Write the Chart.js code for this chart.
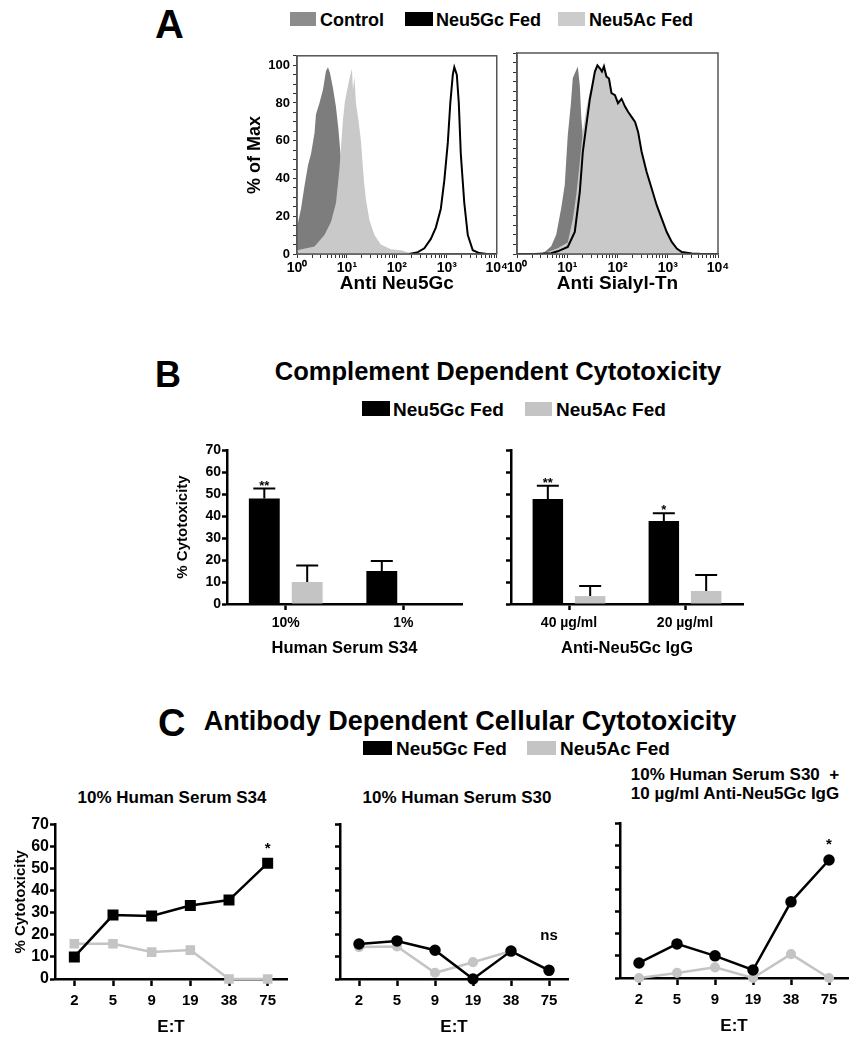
<!DOCTYPE html>
<html>
<head>
<meta charset="utf-8">
<script src="https://cdn.jsdelivr.net/npm/chart.js@4.4.0/dist/chart.umd.min.js"></script>
<style>
  body { margin: 0; background: #fff; width: 862px; height: 1050px; position: relative; overflow: hidden;
         font-family: "Liberation Sans", Arial, sans-serif; font-weight: bold; color: #000; }
  canvas { position: absolute; }
  .t { position: absolute; white-space: nowrap; line-height: 1; }
  .c { transform: translateX(-50%); }
  .sw { position: absolute; }
</style>
</head>
<body>

<!-- panel letters, titles, legends -->
<div class="t" style="left:155px;top:4px;font-size:40px">A</div>
<div class="sw" style="left:290px;top:12px;width:26px;height:14px;background:#8c8c8c"></div>
<div class="t" style="left:320px;top:11px;font-size:18px">Control</div>
<div class="sw" style="left:405px;top:12px;width:28px;height:14px;background:#000"></div>
<div class="t" style="left:436px;top:11px;font-size:18px">Neu5Gc Fed</div>
<div class="sw" style="left:558px;top:12px;width:27px;height:14px;background:#cccccc"></div>
<div class="t" style="left:589px;top:11px;font-size:18px">Neu5Ac Fed</div>

<div class="t" style="left:155px;top:357px;font-size:36px">B</div>
<div class="t c" style="left:498px;top:359px;font-size:25.5px">Complement Dependent Cytotoxicity</div>
<div class="sw" style="left:362px;top:401px;width:28px;height:15px;background:#000"></div>
<div class="t" style="left:393px;top:400px;font-size:19px">Neu5Gc Fed</div>
<div class="sw" style="left:525px;top:402px;width:27px;height:14px;background:#c4c4c4"></div>
<div class="t" style="left:556px;top:400px;font-size:19px">Neu5Ac Fed</div>

<div class="t" style="left:158px;top:704px;font-size:38px">C</div>
<div class="t c" style="left:470px;top:708px;font-size:27px">Antibody Dependent Cellular Cytotoxicity</div>
<div class="sw" style="left:363px;top:741px;width:29px;height:14px;background:#000"></div>
<div class="t" style="left:396px;top:739px;font-size:19px">Neu5Gc Fed</div>
<div class="sw" style="left:527px;top:741px;width:29px;height:14px;background:#c4c4c4"></div>
<div class="t" style="left:560px;top:739px;font-size:19px">Neu5Ac Fed</div>

<div class="t c" style="left:172px;top:789px;font-size:17px">10% Human Serum S34</div>
<div class="t c" style="left:457px;top:789px;font-size:17px">10% Human Serum S30</div>
<div class="t c" style="left:735px;top:766px;font-size:17px">10% Human Serum S30&nbsp;&nbsp;+</div>
<div class="t c" style="left:735px;top:785px;font-size:17px">10 µg/ml Anti-Neu5Gc IgG</div>

<canvas id="a1" width="270" height="254" style="left:240px;top:45px"></canvas>
<canvas id="a2" width="232" height="254" style="left:500px;top:45px"></canvas>
<canvas id="b1" width="300" height="222" style="left:170px;top:440px"></canvas>
<canvas id="b2" width="260" height="222" style="left:491px;top:440px"></canvas>
<canvas id="c1" width="289" height="228" style="left:8px;top:814px"></canvas>
<canvas id="c2" width="258" height="228" style="left:320px;top:814px"></canvas>
<canvas id="c3" width="258" height="228" style="left:600px;top:813px"></canvas>

<script>
// ============================================================
// Data
// ============================================================

// A — histograms, x = log10 fluorescence, y = % of max
const decadeLabels = ['10⁰', '10¹', '10²', '10³', '10⁴'];

const a1CtrlX = [0, 0.08, 0.15, 0.22, 0.28, 0.35, 0.38, 0.45, 0.52, 0.58, 0.62, 0.66, 0.72, 0.78, 0.83, 0.88, 0.95, 1.0, 1.1, 1.2, 1.35, 1.5];
const a1CtrlY = [14, 24, 36, 47, 53, 64, 74, 80, 87, 97, 99, 96, 88, 78, 66, 50, 35, 22, 10, 4, 1, 0];
const a1AcX = [0, 0.35, 0.55, 0.68, 0.78, 0.85, 0.92, 0.96, 1.02, 1.06, 1.10, 1.12, 1.15, 1.18, 1.23, 1.28, 1.34, 1.38, 1.45, 1.55, 1.68, 1.88, 2.08, 2.28, 2.42];
const a1AcY = [2, 4, 10, 17, 27, 45, 71, 81, 89, 94, 98, 87, 94, 80, 71, 60, 39, 29, 18, 10, 5, 2.5, 2, 0.5, 0];
const a1GcX = [2.25, 2.42, 2.55, 2.68, 2.78, 2.88, 2.95, 3.02, 3.07, 3.12, 3.15, 3.2, 3.24, 3.28, 3.35, 3.42, 3.52, 3.65, 3.8, 4.0];
const a1GcY = [0, 1, 3, 8, 14, 24, 39, 59, 80, 95, 99, 95, 80, 53, 27, 10, 2, 0.5, 0, 0];

const a2CtrlX = [0.45, 0.55, 0.68, 0.78, 0.88, 0.95, 1.01, 1.07, 1.11, 1.16, 1.21, 1.25, 1.28, 1.35, 1.45, 1.6, 1.8, 2.0];
const a2CtrlY = [0, 1, 4, 10, 24, 36, 62, 78, 92, 95, 98, 88, 71, 50, 30, 12, 3, 0];
const a2AcX = [0.5, 0.61, 0.81, 1.01, 1.11, 1.18, 1.25, 1.31, 1.38, 1.45, 1.49, 1.53, 1.58, 1.65, 1.69, 1.73, 1.78, 1.85, 1.89, 1.95, 2.0, 2.05, 2.11, 2.18, 2.25, 2.31, 2.38, 2.45, 2.55, 2.65, 2.75, 2.85, 2.95, 3.05, 3.15, 3.25, 3.41];
const a2AcY = [0, 1, 3, 6, 18, 31, 48, 64, 76, 85, 88, 94, 98, 97, 95, 98, 93, 91, 84, 83, 81, 80, 78, 76, 72, 71, 66, 57, 45, 36, 27, 20, 13, 7, 3, 1, 0];
const a2GcX = [0, 0.35, 0.68, 0.81, 1.01, 1.15, 1.25, 1.31, 1.38, 1.45, 1.49, 1.55, 1.6, 1.65, 1.69, 1.73, 1.78, 1.83, 1.88, 1.95, 2.01, 2.08, 2.15, 2.21, 2.28, 2.35, 2.41, 2.48, 2.58, 2.68, 2.78, 2.88, 2.98, 3.08, 3.18, 3.28, 3.48, 3.68, 4.0];
const a2GcY = [0, 0, 0.4, 1.4, 3.7, 11.5, 32.5, 53.4, 67.3, 81, 86.6, 95.3, 98.5, 97, 95.3, 98, 92.7, 91.7, 84, 83, 78.7, 81, 77, 74.3, 71.6, 69, 63.8, 53.4, 42.8, 34.2, 25.5, 18.5, 11.5, 6.3, 2.8, 1, 0.3, 0, 0];

// B — complement dependent cytotoxicity (mean, upper SD)
const b1Labels = ['10%', '1%'];
const b1Gc = [48, 15];
const b1GcErr = [4.5, 4.5];
const b1Ac = [10, 0];
const b1AcErr = [7.5, 0];
const b1Stars = ['**', ''];

const b2Labels = ['40 µg/ml', '20 µg/ml'];
const b2Gc = [47.7, 37.7];
const b2GcErr = [6, 3.5];
const b2Ac = [3.6, 5.9];
const b2AcErr = [4.6, 7.3];
const b2Stars = ['**', '*'];

// C — ADCC vs E:T ratio
const etLabels = ['2', '5', '9', '19', '38', '75'];
const c1Gc = [10, 29, 28.6, 33.3, 35.8, 52.5];
const c1Ac = [16, 16, 12.2, 13.1, 0, 0];
const c1Notes = ['', '', '', '', '', '*'];
const c2Gc = [15.8, 17.2, 13, 0, 12.6, 3.9];
const c2Ac = [14.4, 14.7, 2.8, 7.6, 12.6, 3.9];
const c2Notes = ['', '', '', '', '', 'ns'];
const c3Gc = [6.8, 15.4, 10, 3.6, 34.4, 53.3];
const c3Ac = [0, 2.3, 4.8, 0, 10.8, 0];
const c3Notes = ['', '', '', '', '', '*'];

// ============================================================
// Shared setup
// ============================================================
const FONT = '"Liberation Sans", Arial, sans-serif';
Chart.defaults.font.family = FONT;
Chart.defaults.font.weight = 'bold';
Chart.defaults.color = '#000';

const GREY = '#c4c4c4';
const zip = (xs, ys) => xs.map((x, i) => ({ x, y: ys[i] }));
const fixW = w => s => { s.width = w; };
const fixH = h => s => { s.height = h; };

// box round the histogram plots
const frame = {
  id: 'frame',
  afterDraw(chart) {
    const a = chart.chartArea, ctx = chart.ctx;
    ctx.save();
    ctx.strokeStyle = '#555';
    ctx.lineWidth = 1.5;
    ctx.strokeRect(a.left, a.top, a.right - a.left, a.bottom - a.top);
    ctx.restore();
  }
};

// upper error bars + stars on the bar charts
const errorBars = {
  id: 'errorBars',
  afterDatasetsDraw(chart) {
    const ctx = chart.ctx, y = chart.scales.y;
    chart.data.datasets.forEach((ds, i) => {
      chart.getDatasetMeta(i).data.forEach((bar, j) => {
        const e = ds.errors[j];
        if (!e) return;
        const top = y.getPixelForValue(ds.data[j] + e);
        ctx.save();
        ctx.strokeStyle = '#000';
        ctx.lineWidth = 2;
        ctx.beginPath();
        ctx.moveTo(bar.x, bar.y);
        ctx.lineTo(bar.x, top);
        ctx.moveTo(bar.x - 11, top);
        ctx.lineTo(bar.x + 11, top);
        ctx.stroke();
        const s = ds.stars && ds.stars[j];
        if (s) {
          ctx.fillStyle = '#000';
          ctx.font = 'bold 13px ' + FONT;
          ctx.textAlign = 'center';
          ctx.textBaseline = 'alphabetic';
          ctx.fillText(s, bar.x, top + 1);
        }
        ctx.restore();
      });
    });
  }
};

// significance notes above line points
const notes = {
  id: 'notes',
  afterDatasetsDraw(chart, args, opts) {
    const ctx = chart.ctx;
    chart.data.datasets.forEach((ds, i) => {
      if (!ds.notes) return;
      chart.getDatasetMeta(i).data.forEach((p, j) => {
        const s = ds.notes[j];
        if (!s) return;
        ctx.save();
        ctx.fillStyle = '#000';
        ctx.font = 'bold 15px ' + FONT;
        ctx.textAlign = 'center';
        ctx.textBaseline = 'alphabetic';
        ctx.fillText(s, p.x, p.y - opts.offset);
        ctx.restore();
      });
    });
  }
};

const base = {
  responsive: false,
  animation: false,
  plugins: { legend: { display: false }, tooltip: { enabled: false } }
};

// ============================================================
// A — flow histograms
// ============================================================
function histChart(id, ctrl, ac, gc, opt) {
  new Chart(document.getElementById(id), {
    type: 'line',
    data: {
      datasets: [
        { data: gc, borderColor: '#000', borderWidth: 2, fill: false, pointRadius: 0, order: 1 },
        { data: ac, borderColor: 'rgba(0,0,0,0)', borderWidth: 0, backgroundColor: '#c9c9c9', fill: 'origin', pointRadius: 0, order: 2 },
        { data: ctrl, borderColor: 'rgba(0,0,0,0)', borderWidth: 0, backgroundColor: '#7d7d7d', fill: 'origin', pointRadius: 0, order: 3 }
      ]
    },
    options: {
      ...base,
      layout: { autoPadding: false, padding: { left: 0, top: 8, right: opt.padR, bottom: 0 } },
      scales: {
        x: {
          type: 'linear', min: 0, max: 4,
          afterBuildTicks: s => {
            const t = [];
            for (let n = 0; n < 4; n++) for (let m = 1; m < 10; m++) t.push({ value: n + Math.log10(m) });
            t.push({ value: 4 });
            s.ticks = t;
          },
          afterFit: fixH(45),
          grid: { drawOnChartArea: false, tickLength: 4, color: '#333' },
          border: { color: '#555', width: 1.5 },
          ticks: { autoSkip: false, maxRotation: 0, padding: 2, font: { size: 14, weight: 'bold' },
                   callback: v => Number.isInteger(v) ? decadeLabels[v] : '' },
          title: { display: true, text: opt.xTitle, font: { size: 19, weight: 'bold' }, padding: { top: 0, bottom: 4 } }
        },
        y: {
          min: 0, max: 105,
          afterFit: fixW(opt.yW),
          grid: { drawOnChartArea: false, tickLength: 4, color: '#333' },
          border: { color: '#555', width: 1.5 },
          ticks: { display: opt.yLabels, autoSkip: false, stepSize: 5, padding: 3, font: { size: 13, weight: 'bold' },
                   callback: v => (v % 20 === 0 ? v : '') },
          title: { display: opt.yLabels, text: '% of Max', font: { size: 18, weight: 'bold' }, padding: { top: 4, bottom: 0 } }
        }
      }
    },
    plugins: [frame]
  });
}

histChart('a1', zip(a1CtrlX, a1CtrlY), zip(a1AcX, a1AcY), zip(a1GcX, a1GcY),
  { xTitle: 'Anti Neu5Gc', yLabels: true, yW: 57, padR: 13 });
histChart('a2', zip(a2CtrlX, a2CtrlY), zip(a2AcX, a2AcY), zip(a2GcX, a2GcY),
  { xTitle: 'Anti Sialyl-Tn', yLabels: false, yW: 17, padR: 14 });

// ============================================================
// B — CDC bars
// ============================================================
function cytoY(showLabels, width, tickSize) {
  return {
    min: 0, max: 70,
    afterFit: fixW(width),
    grid: { drawOnChartArea: false, tickLength: 5, tickWidth: 2.5, tickColor: '#000' },
    border: { color: '#000', width: 2.5 },
    ticks: { display: showLabels, autoSkip: false, stepSize: 10, padding: 1, font: { size: tickSize, weight: 'bold' } },
    title: { display: showLabels, text: '% Cytotoxicity', font: { size: 15, weight: 'bold' }, padding: { top: 4, bottom: 0 } }
  };
}

function barChart(id, labels, gc, gcErr, ac, acErr, stars, xTitle, showY, yW) {
  new Chart(document.getElementById(id), {
    type: 'bar',
    data: {
      labels,
      datasets: [
        { data: gc, errors: gcErr, stars, backgroundColor: '#000' },
        { data: ac, errors: acErr, backgroundColor: GREY }
      ]
    },
    options: {
      ...base,
      categoryPercentage: 0.73,
      barPercentage: 0.72,
      layout: { autoPadding: false, padding: { left: 0, top: 10, right: 8, bottom: 0 } },
      scales: {
        x: {
          afterFit: fixH(58),
          grid: { drawOnChartArea: false, offset: false, tickLength: 6, tickWidth: 2.5, tickColor: '#000' },
          border: { color: '#000', width: 2.5 },
          ticks: { padding: 5, font: { size: 14, weight: 'bold' } },
          title: { display: true, text: xTitle, font: { size: 16.5, weight: 'bold' }, padding: { top: 0, bottom: 4 } }
        },
        y: cytoY(showY, yW, 14)
      }
    },
    plugins: [errorBars]
  });
}

barChart('b1', b1Labels, b1Gc, b1GcErr, b1Ac, b1AcErr, b1Stars, 'Human Serum S34', true, 57);
barChart('b2', b2Labels, b2Gc, b2GcErr, b2Ac, b2AcErr, b2Stars, 'Anti-Neu5Gc IgG', false, 20);

// ============================================================
// C — ADCC lines
// ============================================================
function lineChart(id, gc, ac, noteList, style, showY, yW, noteOffset) {
  const big = style === 'rect' ? 6 : 4.5;
  const small = style === 'rect' ? 5 : 3.8;
  new Chart(document.getElementById(id), {
    type: 'line',
    data: {
      labels: etLabels,
      datasets: [
        { data: gc, notes: noteList, borderColor: '#000', backgroundColor: '#000', borderWidth: 2.5,
          pointStyle: style, pointRadius: big, tension: 0, clip: false },
        { data: ac, borderColor: GREY, backgroundColor: GREY, borderWidth: 2.5,
          pointStyle: style, pointRadius: small, tension: 0, clip: false }
      ]
    },
    options: {
      ...base,
      plugins: { ...base.plugins, notes: { offset: noteOffset } },
      layout: { autoPadding: false, padding: { left: 0, top: 10, right: 10, bottom: 0 } },
      scales: {
        x: {
          offset: true,
          afterFit: fixH(63),
          grid: { drawOnChartArea: false, offset: false, tickLength: 7, tickWidth: 2.5, tickColor: '#000' },
          border: { color: '#000', width: 2.5 },
          ticks: { padding: 6, font: { size: 15, weight: 'bold' } },
          title: { display: true, text: 'E:T', font: { size: 17, weight: 'bold' }, padding: { top: 0, bottom: 4 } }
        },
        y: cytoY(showY, yW, 16)
      }
    },
    plugins: [notes]
  });
}

lineChart('c1', c1Gc, c1Ac, c1Notes, 'rect', true, 47, 10);
lineChart('c2', c2Gc, c2Ac, c2Notes, 'circle', false, 20, 30);
lineChart('c3', c3Gc, c3Ac, c3Notes, 'circle', false, 20, 11);
</script>
</body>
</html>
